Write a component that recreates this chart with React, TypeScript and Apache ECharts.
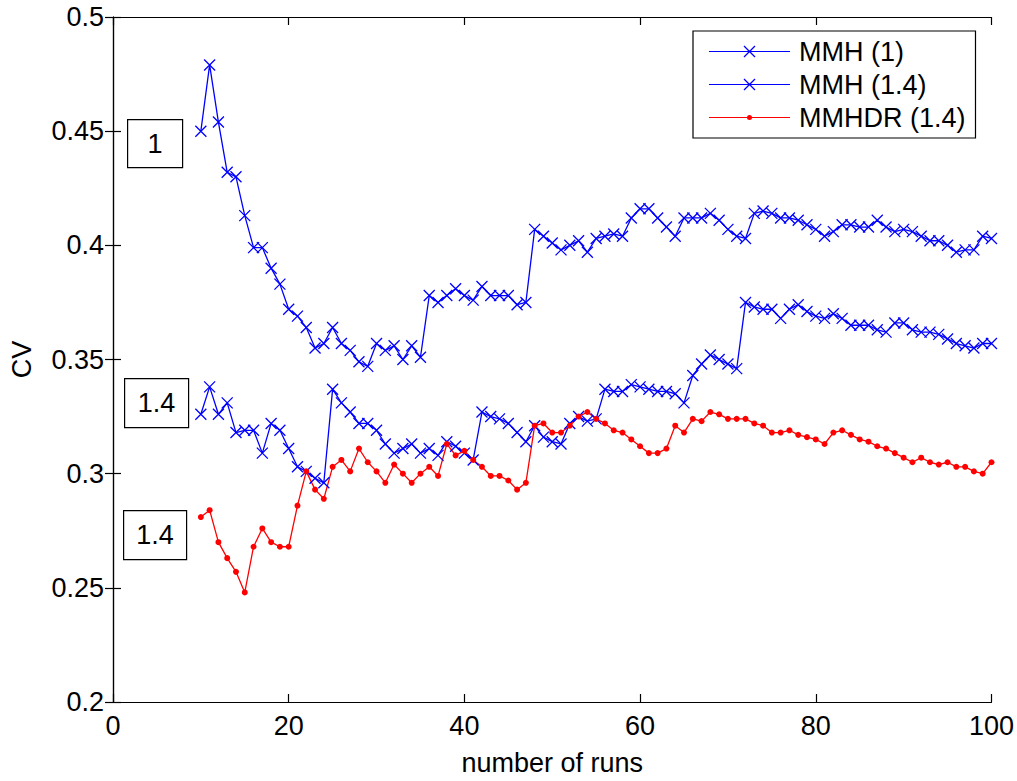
import React, { useEffect, useRef } from "react";
import * as echarts from "echarts";

const runs: number[] = Array.from({ length: 91 }, (_, i) => i + 10);

const mmh1: number[] = [
  0.450, 0.479, 0.454, 0.432, 0.430, 0.413, 0.399, 0.399, 0.390, 0.383,
  0.372, 0.369, 0.364, 0.355, 0.357, 0.364, 0.357, 0.354, 0.349, 0.347,
  0.357, 0.354, 0.356, 0.350, 0.356, 0.351, 0.378, 0.375, 0.378, 0.381,
  0.378, 0.376, 0.382, 0.378, 0.378, 0.378, 0.374, 0.375, 0.407, 0.404,
  0.401, 0.398, 0.400, 0.402, 0.397, 0.403, 0.404, 0.405, 0.404, 0.412,
  0.416, 0.416, 0.412, 0.408, 0.404, 0.412, 0.412, 0.412, 0.414, 0.411,
  0.407, 0.404, 0.403, 0.414, 0.415, 0.414, 0.412, 0.412, 0.411, 0.409,
  0.407, 0.404, 0.406, 0.409, 0.409, 0.408, 0.408, 0.411, 0.408, 0.406,
  0.407, 0.406, 0.404, 0.402, 0.402, 0.400, 0.397, 0.398, 0.398, 0.404,
  0.403,
];

const mmh14: number[] = [
  0.326, 0.338, 0.326, 0.331, 0.318, 0.319, 0.319, 0.309, 0.322, 0.319,
  0.311, 0.303, 0.301, 0.298, 0.296, 0.337, 0.331, 0.327, 0.322, 0.322,
  0.319, 0.313, 0.309, 0.311, 0.313, 0.309, 0.311, 0.308, 0.314, 0.312,
  0.309, 0.306, 0.327, 0.325, 0.324, 0.322, 0.318, 0.314, 0.321, 0.316,
  0.314, 0.313, 0.322, 0.325, 0.323, 0.324, 0.337, 0.336, 0.336, 0.339,
  0.338, 0.337, 0.336, 0.336, 0.335, 0.331, 0.343, 0.348, 0.352, 0.350,
  0.348, 0.346, 0.375, 0.373, 0.372, 0.372, 0.368, 0.372, 0.374, 0.371,
  0.369, 0.368, 0.370, 0.368, 0.365, 0.365, 0.365, 0.363, 0.362, 0.366,
  0.366, 0.363, 0.362, 0.362, 0.361, 0.359, 0.357, 0.356, 0.355, 0.357,
  0.357,
];

const mmhdr14: number[] = [
  0.281, 0.284, 0.270, 0.263, 0.257, 0.248, 0.268, 0.276, 0.270, 0.268,
  0.268, 0.286, 0.301, 0.293, 0.289, 0.303, 0.306, 0.301, 0.311, 0.305,
  0.301, 0.296, 0.304, 0.300, 0.296, 0.300, 0.303, 0.299, 0.313, 0.308,
  0.310, 0.306, 0.303, 0.299, 0.299, 0.297, 0.293, 0.296, 0.321, 0.322,
  0.318, 0.318, 0.321, 0.325, 0.327, 0.324, 0.322, 0.319, 0.318, 0.315,
  0.312, 0.309, 0.309, 0.311, 0.321, 0.318, 0.324, 0.323, 0.327, 0.326,
  0.324, 0.324, 0.324, 0.322, 0.321, 0.318, 0.318, 0.319, 0.317, 0.316,
  0.315, 0.313, 0.318, 0.319, 0.317, 0.315, 0.314, 0.312, 0.311, 0.309,
  0.307, 0.305, 0.307, 0.305, 0.304, 0.305, 0.303, 0.303, 0.301, 0.300,
  0.305,
];

const seriesNames: string[] = ["MMH (1)", "MMH (1.4)", "MMHDR (1.4)"];
const annotationLabels: string[] = ["1", "1.4", "1.4"];

const FONT = "'Liberation Sans', Arial, Helvetica, sans-serif";
const FS = 27;
const CROSS = "path://M0 0L10 10M10 0L0 10";

// legend icons: horizontal line (81 wide) with a marker in the middle
const LEG_LINE = "M0 6.4H81V7.6H0Z";
const LEG_CROSS_ICON =
  "path://" +
  LEG_LINE +
  "M35.46 1.04L46.46 12.04L45.54 12.96L34.54 1.96Z" +
  "M45.54 1.04L46.46 1.96L35.46 12.96L34.54 12.04Z";
const LEG_DOT_ICON =
  "path://" + LEG_LINE + "M43 7A2.5 2.5 0 1 1 38 7A2.5 2.5 0 1 1 43 7Z";

export default function App() {
  const ref = useRef<HTMLDivElement>(null);

  useEffect(() => {
    if (!ref.current) return;
    const chart = echarts.init(ref.current, undefined, { renderer: "svg" });

    const pair = (vals: number[]) => runs.map((r, i) => [r, vals[i]]);

    const axisCommon = {
      axisLine: { show: true, lineStyle: { color: "#000", width: 1.2 } },
      axisTick: { show: true, inside: true, length: 8, lineStyle: { color: "#000", width: 1.2 } },
      splitLine: { show: false },
    };

    const boxes = [
      { x: 127, y: 119, w: 55, h: 48 },
      { x: 124, y: 378, w: 64, h: 49 },
      { x: 123, y: 510, w: 63, h: 49 },
    ];

    chart.setOption({
      animation: false,
      backgroundColor: "#fff",
      textStyle: { fontFamily: FONT },
      grid: { left: 110, top: 17, right: 24, bottom: 70, containLabel: false },
      legend: {
        orient: "vertical",
        left: 693,
        top: 31,
        data: [
          { name: seriesNames[0], icon: LEG_CROSS_ICON, itemStyle: { color: "#0000ff", borderWidth: 0 } },
          { name: seriesNames[1], icon: LEG_CROSS_ICON, itemStyle: { color: "#0000ff", borderWidth: 0 } },
          { name: seriesNames[2], icon: LEG_DOT_ICON, itemStyle: { color: "#ff0000", borderWidth: 0 } },
        ],
        backgroundColor: "#fff",
        borderColor: "#000",
        borderWidth: 1.2,
        borderRadius: 0,
        padding: [7, 10, 7, 16],
        itemWidth: 81,
        itemHeight: 14,
        itemGap: 6,
        symbolKeepAspect: true,
        textStyle: { fontSize: FS, color: "#000", fontFamily: FONT, padding: [0, 0, 0, 4] },
      },
      xAxis: [
        {
          type: "value",
          min: 0,
          max: 100,
          interval: 20,
          position: "bottom",
          name: "number of runs",
          nameLocation: "middle",
          nameGap: 47,
          nameTextStyle: { fontSize: FS, color: "#000", fontFamily: FONT },
          axisLabel: { fontSize: FS, color: "#000", margin: 10, fontFamily: FONT },
          ...axisCommon,
        },
        {
          type: "value",
          min: 0,
          max: 100,
          interval: 20,
          position: "top",
          axisLabel: { show: false },
          ...axisCommon,
        },
      ],
      yAxis: [
        {
          type: "value",
          min: 0.2,
          max: 0.5,
          interval: 0.05,
          position: "left",
          name: "CV",
          nameLocation: "middle",
          nameGap: 78,
          nameRotate: 90,
          nameTextStyle: { fontSize: FS, color: "#000", fontFamily: FONT },
          axisLabel: { fontSize: FS, color: "#000", margin: 9, fontFamily: FONT },
          ...axisCommon,
        },
        {
          type: "value",
          min: 0.2,
          max: 0.5,
          interval: 0.05,
          position: "right",
          axisLabel: { show: false },
          ...axisCommon,
        },
      ],
      series: [
        {
          name: seriesNames[0],
          type: "line",
          data: pair(mmh1),
          symbol: CROSS,
          symbolSize: 11,
          lineStyle: { color: "#0000ff", width: 1.3 },
          itemStyle: { color: "rgba(0,0,0,0)", borderColor: "#0000ff", borderWidth: 1.3 },
          clip: false,
        },
        {
          name: seriesNames[1],
          type: "line",
          data: pair(mmh14),
          symbol: CROSS,
          symbolSize: 11,
          lineStyle: { color: "#0000ff", width: 1.3 },
          itemStyle: { color: "rgba(0,0,0,0)", borderColor: "#0000ff", borderWidth: 1.3 },
          clip: false,
        },
        {
          name: seriesNames[2],
          type: "line",
          data: pair(mmhdr14),
          symbol: "circle",
          symbolSize: 6,
          lineStyle: { color: "#ff0000", width: 1.3 },
          itemStyle: { color: "#ff0000", borderColor: "#ff0000", borderWidth: 0 },
          clip: false,
        },
      ],
      graphic: boxes.map((b, i) => ({
        type: "group",
        left: b.x,
        top: b.y,
        children: [
          {
            type: "rect",
            shape: { x: 0, y: 0, width: b.w, height: b.h },
            style: { fill: "#fff", stroke: "#000", lineWidth: 1.2 },
          },
          {
            type: "text",
            x: b.w / 2,
            y: b.h / 2,
            style: {
              text: annotationLabels[i],
              fontSize: FS,
              fontFamily: FONT,
              fill: "#000",
              align: "center",
              verticalAlign: "middle",
            },
          },
        ],
      })),
    });

    return () => chart.dispose();
  }, []);

  return (
    <div
      ref={ref}
      style={{ position: "fixed", left: 0, top: 0, width: 1017, height: 781, background: "#fff" }}
    />
  );
}
